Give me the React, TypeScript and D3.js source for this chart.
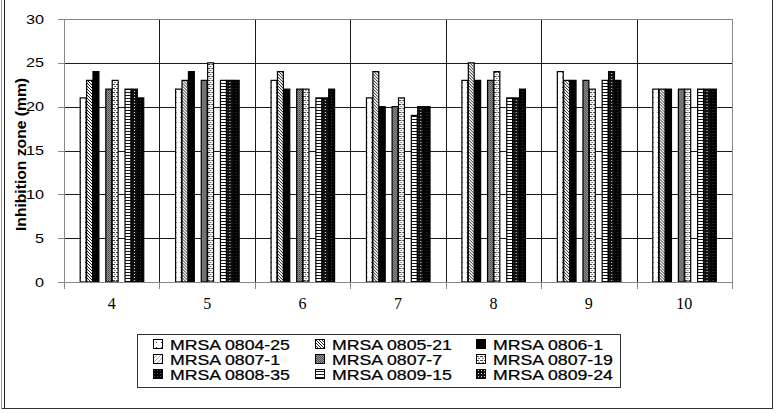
import React from 'react';
import * as d3 from 'd3';

// time points (x axis)
const categories = ['4', '5', '6', '7', '8', '9', '10'];

// legend order (row by row, three columns)
const seriesNames = [
  'MRSA 0804-25', 'MRSA 0805-21', 'MRSA 0806-1',
  'MRSA 0807-1', 'MRSA 0807-7', 'MRSA 0807-19',
  'MRSA 0808-35', 'MRSA 0809-15', 'MRSA 0809-24',
];

// inhibition zone (mm) per strain, one value per time point
const mrsa0804_25 = [21, 22, 23, 21, 23, 24, 22];
const mrsa0805_21 = [23, 23, 24, 24, 25, 23, 22];
const mrsa0806_1 = [24, 24, 22, 20, 23, 23, 22];
const mrsa0807_1: (number | null)[] = [null, null, null, null, null, null, null];
const mrsa0807_7 = [22, 23, 22, 20, 23, 23, 22];
const mrsa0807_19 = [23, 25, 22, 21, 24, 22, 22];
const mrsa0808_35 = [21, 23, 22, 20, 22, 23, 22];
const mrsa0809_15 = [22, 23, 21, 19, 21, 23, 22];
const mrsa0809_24 = [22, 23, 21, 20, 21, 24, 22];

const yTicks = [0, 5, 10, 15, 20, 25, 30];

// bar slots inside each group, as laid out in the original sheet ('' = empty column)
const slots = [
  'MRSA 0804-25', 'MRSA 0805-21', 'MRSA 0806-1', 'MRSA 0807-1',
  'MRSA 0807-7', 'MRSA 0807-19', '', 'MRSA 0809-15', 'MRSA 0809-24', 'MRSA 0808-35',
];

const seriesValues: Record<string, (number | null)[]> = {
  'MRSA 0804-25': mrsa0804_25,
  'MRSA 0805-21': mrsa0805_21,
  'MRSA 0806-1': mrsa0806_1,
  'MRSA 0807-1': mrsa0807_1,
  'MRSA 0807-7': mrsa0807_7,
  'MRSA 0807-19': mrsa0807_19,
  'MRSA 0808-35': mrsa0808_35,
  'MRSA 0809-15': mrsa0809_15,
  'MRSA 0809-24': mrsa0809_24,
};

const W = 777;
const H = 413;
const margin = { top: 19, right: 45, bottom: 131, left: 64 };

const Patterns = () => (
  <defs>
    <pattern id="p0" width="5" height="5" patternUnits="userSpaceOnUse">
      <rect width="5" height="5" fill="#fff" />
      <rect x="1" y="2" width="1" height="1" fill="#333" />
    </pattern>
    <pattern id="p1" width="3" height="3" patternUnits="userSpaceOnUse">
      <rect width="3" height="3" fill="#fff" />
      <path d="M0,0 L3,3 M-1,2 L1,4 M2,-1 L4,1" stroke="#222" strokeWidth="1" />
    </pattern>
    <pattern id="p2" width="4" height="4" patternUnits="userSpaceOnUse">
      <rect width="4" height="4" fill="#000" />
    </pattern>
    <pattern id="p3" width="4" height="4" patternUnits="userSpaceOnUse">
      <rect width="4" height="4" fill="#fff" />
      <path d="M0,4 L4,0" stroke="#999" strokeWidth="0.8" />
    </pattern>
    <pattern id="p4" width="2" height="2" patternUnits="userSpaceOnUse">
      <rect width="2" height="2" fill="#9a9a9a" />
      <rect width="1" height="1" fill="#444" />
      <rect x="1" y="1" width="1" height="1" fill="#555" />
    </pattern>
    <pattern id="p5" width="4" height="4" patternUnits="userSpaceOnUse">
      <rect width="4" height="4" fill="#fff" />
      <rect x="0" y="0" width="3" height="1" fill="#444" />
      <rect x="2" y="2" width="2" height="1" fill="#888" />
    </pattern>
    <pattern id="p6" width="3" height="3" patternUnits="userSpaceOnUse">
      <rect width="3" height="3" fill="#000" />
      <rect x="1" y="1" width="1" height="1" fill="#444" />
    </pattern>
    <pattern id="p7" width="4" height="3" patternUnits="userSpaceOnUse">
      <rect width="4" height="3" fill="#fff" />
      <rect y="2" width="4" height="1" fill="#111" />
    </pattern>
    <pattern id="p8" width="3" height="3" patternUnits="userSpaceOnUse">
      <rect width="3" height="3" fill="#111" />
      <rect x="1" y="1" width="1" height="1" fill="#ddd" />
    </pattern>
  </defs>
);

const fillOf = (name: string) => `url(#p${seriesNames.indexOf(name)})`;

export default function App() {
  const x0 = d3.scaleBand().domain(categories).range([margin.left, W - margin.right]);
  const x1 = d3.scaleBand().domain(slots.map((s, i) => `${i}:${s}`))
    .range([0, x0.bandwidth()]).paddingInner(0).paddingOuter(2.45);
  const y = d3.scaleLinear().domain([0, 30]).range([H - margin.bottom, margin.top]);

  const left = margin.left;
  const right = W - margin.right;
  const top = y(30);
  const bottom = y(0);
  const bounds = [...categories.map((c) => x0(c)!), right];

  const sans = '"Liberation Sans", Arial, sans-serif';

  return (
    <svg width={W} height={H} style={{ position: 'absolute', left: 0, top: 0, background: '#fff' }}>
      <Patterns />
      {/* outer frame */}
      <line x1={1.5} y1={0} x2={1.5} y2={408} stroke="#999" />
      <line x1={4.5} y1={0} x2={4.5} y2={408} stroke="#222" />
      <line x1={1.5} y1={408.5} x2={773} y2={408.5} stroke="#333" />
      <line x1={772.5} y1={0} x2={772.5} y2={408} stroke="#333" />

      {/* horizontal gridlines */}
      {yTicks.filter((t) => t > 0 && t < 30).map((t) => (
        <line key={t} x1={left} x2={right} y1={Math.round(y(t)) + 0.5} y2={Math.round(y(t)) + 0.5} stroke="#1a1a1a" />
      ))}
      {/* vertical gridlines at category boundaries */}
      {bounds.slice(1, -1).map((b, i) => (
        <line key={i} x1={Math.round(b) + 0.5} x2={Math.round(b) + 0.5} y1={top} y2={bottom} stroke="#1a1a1a" />
      ))}

      {/* bars */}
      {categories.map((c, ci) => (
        <g key={c} transform={`translate(${x0(c)},0)`}>
          {slots.map((s, si) => {
            if (!s) return null;
            const v = seriesValues[s][ci];
            if (v == null) return null;
            return (
              <rect key={si} x={x1(`${si}:${s}`)! + 0.5} y={y(v)} width={x1.bandwidth() - 0.5}
                height={bottom - y(v)} fill={fillOf(s)} stroke="#000" strokeWidth={1.2} />
            );
          })}
        </g>
      ))}

      {/* plot frame / axes */}
      <line x1={left} x2={right} y1={Math.round(top) + 0.5} y2={Math.round(top) + 0.5} stroke="#888" />
      <line x1={right + 0.5} x2={right + 0.5} y1={top} y2={bottom + 7} stroke="#888" />
      <line x1={left + 0.5} x2={left + 0.5} y1={top} y2={bottom + 7} stroke="#888" />
      <line x1={left - 6} x2={right} y1={Math.round(bottom) + 0.5} y2={Math.round(bottom) + 0.5} stroke="#888" />
      {bounds.slice(1, -1).map((b, i) => (
        <line key={i} x1={Math.round(b) + 0.5} x2={Math.round(b) + 0.5} y1={bottom} y2={bottom + 7} stroke="#888" />
      ))}
      {yTicks.map((t) => (
        <g key={t}>
          <line x1={left - 6} x2={left} y1={Math.round(y(t)) + 0.5} y2={Math.round(y(t)) + 0.5} stroke="#888" />
          <text transform={`translate(${left - 20},${y(t) + 4.5}) scale(1.3,1)`} textAnchor="end"
            fontFamily={sans} fontSize={12.5} fill="#000">{t}</text>
        </g>
      ))}

      {/* x tick labels */}
      {categories.map((c) => (
        <text key={c} x={x0(c)! + x0.bandwidth() / 2} y={309} textAnchor="middle"
          fontFamily='"Liberation Serif", "Times New Roman", serif' fontSize={16} fill="#000">{c}</text>
      ))}

      {/* y title */}
      <text transform={`translate(26,${(top + bottom) / 2 + 4}) rotate(-90) scale(1.08,1.05)`} textAnchor="middle"
        fontFamily={sans} fontWeight="bold" fontSize={14.5} fill="#000">Inhibition zone (mm)</text>

      {/* legend */}
      <rect x={137.5} y={334.5} width={483} height={53} fill="#fff" stroke="#333" />
      {seriesNames.map((s, i) => {
        const cx = [153, 315, 476][i % 3];
        const cy = 344 + Math.floor(i / 3) * 15;
        return (
          <g key={s}>
            <rect x={cx + 0.5} y={cy - 4.5} width={9} height={9} fill={fillOf(s)} stroke="#000" />
            <text transform={`translate(${cx + 17},${cy + 5.5}) scale(1.18,1)`} fontFamily={sans}
              fontSize={15} fill="#000" stroke="#000" strokeWidth={0.25}>{s}</text>
          </g>
        );
      })}
    </svg>
  );
}
